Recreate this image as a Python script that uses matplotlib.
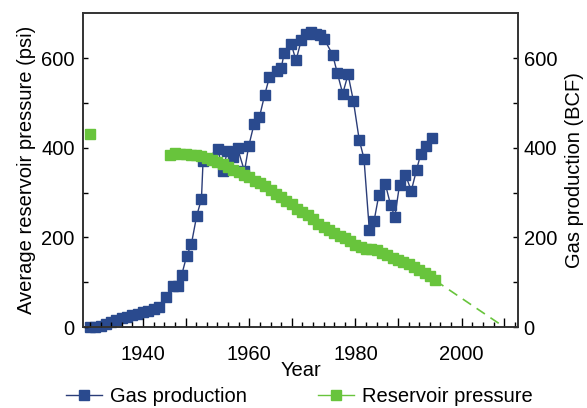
import matplotlib.pyplot as plt
from matplotlib.lines import Line2D

plt.rcParams['font.family'] = ['Liberation Sans', 'DejaVu Sans']

# gas production (BCF)
gas_years = [1930, 1931, 1932, 1933, 1934, 1935, 1936, 1937, 1938, 1939,
             1940, 1941, 1942, 1943, 1944.4, 1945.7, 1946.6, 1947.3, 1948.2, 1949.1,
             1950.1, 1951.0, 1951.3, 1954.1, 1955.0, 1955.9, 1957.0, 1957.8, 1959.1, 1959.9,
             1960.9, 1961.9, 1962.9, 1963.8, 1965.3, 1966.0, 1966.6, 1967.9, 1968.8, 1969.8,
             1970.7, 1971.6, 1972.6, 1973.4, 1974.1, 1975.7, 1976.6, 1977.6, 1978.6, 1979.6,
             1980.7, 1981.6, 1982.6, 1983.5, 1984.4, 1985.6, 1986.6, 1987.4, 1988.3, 1989.4,
             1990.5, 1991.5, 1992.3, 1993.3, 1994.4]
gas_bcf = [0, 0, 2, 7, 12, 16, 20, 23, 27, 30,
           33, 36, 40, 44, 68, 91, 91, 117, 158, 185,
           248, 286, 370, 397, 348, 393, 379, 399, 348, 404,
           453, 468, 518, 558, 572, 578, 612, 632, 595, 641,
           655, 658, 655, 652, 643, 608, 566, 521, 564, 505,
           418, 376, 217, 237, 295, 320, 273, 246, 318, 340,
           304, 351, 387, 405, 421]

# average reservoir pressure (psi)
press_years = list(range(1945, 1996))
press_psi = [384, 388, 387, 386, 385, 384, 382, 378, 373, 368,
             363, 357, 351, 345, 340, 334, 327, 321, 314, 306,
             298, 290, 282, 274, 263, 257, 250, 241, 231, 224,
             216, 209, 203, 198, 192, 184, 178, 175, 174, 172,
             166, 160, 155, 150, 145, 140, 134, 128, 121, 114, 104]
initial_year = [1930]
initial_psi = [431]
trend_years = [1995, 2008]
trend_psi = [104, 0]

xticks_major = [1940, 1948, 1960, 1968, 1980, 1988, 2000, 2008]
xlabels = ['1940', '', '1960', '', '1980', '', '2000', '']
xticks_minor = list(range(1930, 2011, 2))

blue = '#2a4a8e'
green = '#68c43c'

fig = plt.figure(figsize=(5.87, 4.08), dpi=100)
ax = fig.add_axes([0.1414, 0.1985, 0.7411, 0.7685])
ax2 = ax.twinx()
ax.set_zorder(2)
ax.patch.set_visible(False)

ax2.plot(gas_years, gas_bcf, '-s', color='#2b3d78', mfc=blue, mec=blue,
         ms=6.8, lw=1, clip_on=False)
ax.plot(press_years, press_psi, 's', color=green, ms=7.3, clip_on=False)
ax.plot(initial_year, initial_psi, 's', color=green, ms=7.3, clip_on=False)
ax.plot(trend_years, trend_psi, '--', color=green, lw=1.2, dashes=(6, 4))

ax.set_xlim(1928.7, 2010.6)
ax.set_ylim(0, 700)
ax2.set_ylim(0, 700)

ax.set_xticks(xticks_major)
ax.set_xticklabels(xlabels)
ax.set_xticks(xticks_minor, minor=True)
ax.set_yticks([0, 200, 400, 600])
ax.set_yticks([100, 300, 500], minor=True)
ax2.set_yticks([0, 200, 400, 600])
ax2.set_yticks([100, 300, 500], minor=True)

ax.tick_params(axis='x', which='major', direction='in', length=6.5, width=1,
               labelsize=14.5, pad=13)
ax.tick_params(axis='x', which='minor', direction='in', length=3.5, width=1)
ax.tick_params(axis='y', which='both', direction='in', length=3.5, width=1,
               labelsize=14.5, pad=6)
ax2.tick_params(axis='y', which='both', direction='in', length=3.5, width=1,
                labelsize=14.5, pad=4)

for a in (ax, ax2):
    for s in a.spines.values():
        s.set_linewidth(1.2)
        s.set_color('#333333')

ax.set_xlabel('Year', fontsize=14.5, labelpad=-2)
ax.set_ylabel('Average reservoir pressure (psi)', fontsize=14.5, labelpad=4)
ax2.set_ylabel('Gas production (BCF)', fontsize=14.5, labelpad=6)

handles = [
    Line2D([], [], color='#2b3d78', marker='s', mfc=blue, mec=blue, ms=6.8, lw=1),
    Line2D([], [], color=green, marker='s', ms=7.3, lw=1),
]
fig.legend(handles, ['Gas production', 'Reservoir pressure'], loc='center',
           bbox_to_anchor=(0.51, 0.028), ncol=2, frameon=False, fontsize=14.5,
           handlelength=1.8, handletextpad=0.4, columnspacing=3.5)

fig.savefig('out.png', dpi=100)
